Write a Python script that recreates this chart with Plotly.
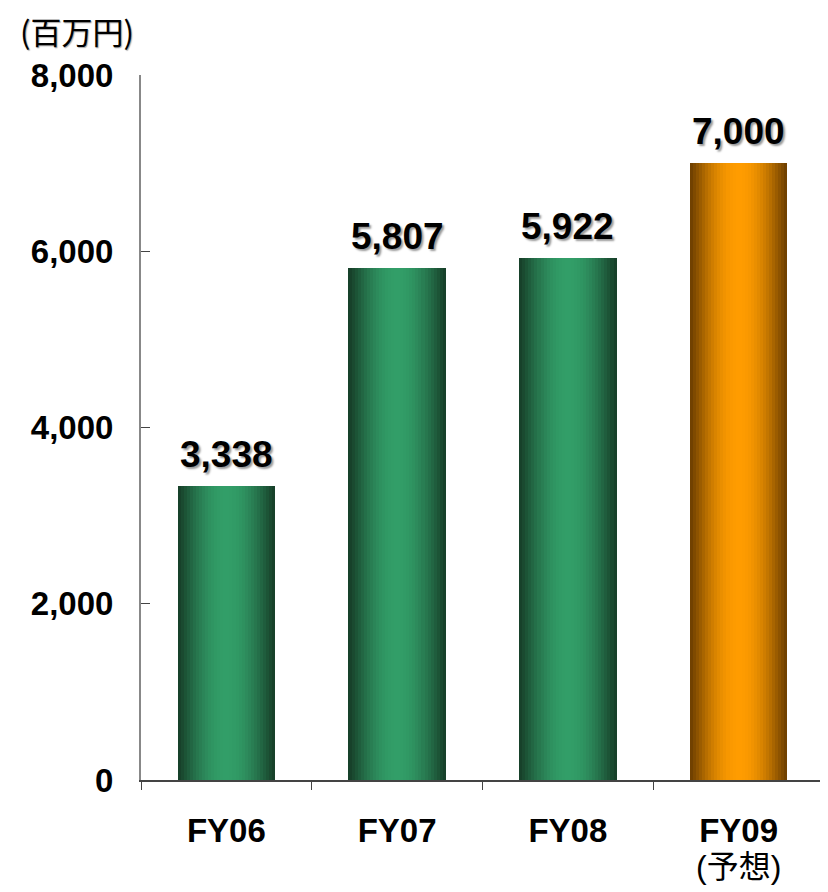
import plotly.graph_objects as go

categories = ["FY06", "FY07", "FY08", "FY09"]
sublabels = ["", "", "", "(予想)"]
values = [3338, 5807, 5922, 7000]
value_labels = ["3,338", "5,807", "5,922", "7,000"]
y_ticks = [0, 2000, 4000, 6000, 8000]

green_center = (50, 158, 104)
green_edge = (22, 62, 40)
orange_center = (255, 156, 0)
orange_edge = (108, 62, 0)

def mix(c1, c2, f):
    return "rgb(%d,%d,%d)" % tuple(round(a + (b - a) * f) for a, b in zip(c1, c2))

fig = go.Figure()
N = 16
bar_w = 0.57
for k in range(N):
    frac = 1 - k / N
    t = frac - 0.5 / N
    f = (1 - t ** 2) ** 1.2
    cols = []
    for i in range(len(categories)):
        if i == 3:
            cols.append(mix(orange_edge, orange_center, f))
        else:
            cols.append(mix(green_edge, green_center, f))
    fig.add_trace(go.Bar(
        x=categories, y=values, width=bar_w * frac,
        marker=dict(color=cols, line=dict(width=0)),
        hoverinfo="skip", showlegend=False,
    ))

for c, v, lab in zip(categories, values, value_labels):
    fig.add_annotation(
        x=c, y=v, text="<b>%s</b>" % lab, showarrow=False,
        yanchor="bottom", yshift=9, xref="x", yref="y",
        font=dict(family="Liberation Sans, Arial, sans-serif", size=37, color="black",
                  shadow="2px 2px 2px #9a9a9a"),
    )

fig.add_annotation(
    x=-0.180, y=1.0638, xref="paper", yref="paper", xanchor="left", yanchor="middle",
    text="(百万円)", showarrow=False,
    font=dict(family="Noto Sans CJK JP", size=31, color="black",
              shadow="1px 1px 1px #aaaaaa"),
)

ticktext = []
for c, s in zip(categories, sublabels):
    t = "<span style='font-size:33px'><b>%s</b></span>" % c
    if s:
        t += "<br><span style='font-size:32px'>%s</span>" % s
    ticktext.append(t)

fig.update_layout(
    width=820, height=884,
    margin=dict(l=133, r=4, t=67, b=112),
    barmode="overlay", bargap=0,
    plot_bgcolor="white", paper_bgcolor="white",
    font=dict(family="Liberation Sans, Arial, sans-serif", color="black"),
    xaxis=dict(
        tickmode="array", tickvals=categories, ticktext=ticktext,
        tickson="boundaries", ticks="outside", ticklen=8, tickcolor="#444444", tickwidth=1,
        showline=True, linecolor="#444444", linewidth=2, showgrid=False,
        tickfont=dict(size=28, color="black", family="Liberation Sans, Noto Sans CJK JP, sans-serif"),
        ticklabelstandoff=26, automargin=False,
    ),
    yaxis=dict(
        range=[0, 8000], tickvals=y_ticks, tickformat=",",
        ticks="inside", ticklen=9, tickcolor="#444444", tickwidth=1,
        showline=True, linecolor="#888888", linewidth=2, showgrid=False, zeroline=False,
        tickfont=dict(size=33, color="black", family="Liberation Sans, Arial, sans-serif", weight="bold"),
        ticklabelstandoff=19, automargin=False,
    ),
)

fig.write_html("out.html")
